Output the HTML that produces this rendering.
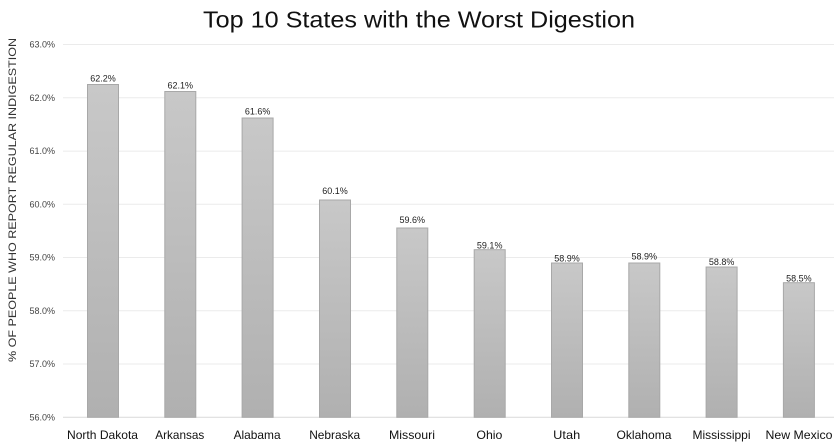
<!DOCTYPE html>
<html>
<head>
<meta charset="utf-8">
<style>
  html,body{margin:0;padding:0;background:#fff;}
  svg{display:block;}
  text{font-family:"Liberation Sans",sans-serif;}
</style>
</head>
<body>
<svg width="834" height="445" viewBox="0 0 834 445" xmlns="http://www.w3.org/2000/svg">
  <defs>
    <linearGradient id="g" x1="0" y1="0" x2="0" y2="1">
      <stop offset="0" stop-color="#c8c8c8"/>
      <stop offset="1" stop-color="#b0b0b0"/>
    </linearGradient>
  </defs>
  <rect width="834" height="445" fill="#fff"/>

  <!-- Title -->
  <text x="203" y="27.5" font-size="23" fill="#111" textLength="432" lengthAdjust="spacingAndGlyphs">Top 10 States with the Worst Digestion</text>

  <!-- Y axis title -->
  <text transform="translate(16,200) rotate(-90)" text-anchor="middle" font-size="11" fill="#333" textLength="324" lengthAdjust="spacingAndGlyphs">% OF PEOPLE WHO REPORT REGULAR INDIGESTION</text>

  <!-- Gridlines -->
  <g stroke="#ebebeb" stroke-width="1">
    <line x1="63" y1="44.5" x2="834" y2="44.5"/>
    <line x1="63" y1="97.8" x2="834" y2="97.8"/>
    <line x1="63" y1="151.1" x2="834" y2="151.1"/>
    <line x1="63" y1="204.3" x2="834" y2="204.3"/>
    <line x1="63" y1="257.5" x2="834" y2="257.5"/>
    <line x1="63" y1="310.8" x2="834" y2="310.8"/>
    <line x1="63" y1="364" x2="834" y2="364"/>
  </g>
  <line x1="63" y1="417.3" x2="834" y2="417.3" stroke="#d9d9d9" stroke-width="1"/>

  <!-- Y tick labels -->
  <g font-size="9" fill="#444" text-anchor="end">
    <text x="55" y="47.5">63.0%</text>
    <text x="55" y="100.8">62.0%</text>
    <text x="55" y="154.1">61.0%</text>
    <text x="55" y="207.3">60.0%</text>
    <text x="55" y="260.5">59.0%</text>
    <text x="55" y="313.8">58.0%</text>
    <text x="55" y="367">57.0%</text>
    <text x="55" y="420.3">56.0%</text>
  </g>

  <!-- Bars -->
  <g fill="url(#g)" stroke="#a8a8a8" stroke-width="1">
    <rect x="87.5" y="84.5" width="31" height="332.8"/>
    <rect x="164.8" y="91.5" width="31" height="325.8"/>
    <rect x="242.1" y="118" width="31" height="299.3"/>
    <rect x="319.5" y="200" width="31" height="217.3"/>
    <rect x="396.8" y="228" width="31" height="189.3"/>
    <rect x="474.2" y="249.7" width="31" height="167.6"/>
    <rect x="551.5" y="263" width="31" height="154.3"/>
    <rect x="628.8" y="263" width="31" height="154.3"/>
    <rect x="706.1" y="267" width="31" height="150.3"/>
    <rect x="783.4" y="282.7" width="31" height="134.6"/>
  </g>

  <!-- Value labels -->
  <g font-size="9" fill="#222" text-anchor="middle">
    <text x="103" y="81.5">62.2%</text>
    <text x="180.3" y="88.3">62.1%</text>
    <text x="257.6" y="114.3">61.6%</text>
    <text x="335" y="194">60.1%</text>
    <text x="412.3" y="223">59.6%</text>
    <text x="489.7" y="248.3">59.1%</text>
    <text x="567" y="261.7">58.9%</text>
    <text x="644.3" y="259.3">58.9%</text>
    <text x="721.6" y="265">58.8%</text>
    <text x="798.9" y="281.5">58.5%</text>
  </g>

  <!-- Category labels -->
  <g font-size="12" fill="#111" text-anchor="middle">
    <text x="102.5" y="439" textLength="71" lengthAdjust="spacingAndGlyphs">North Dakota</text>
    <text x="179.8" y="439" textLength="49" lengthAdjust="spacingAndGlyphs">Arkansas</text>
    <text x="257.1" y="439" textLength="47" lengthAdjust="spacingAndGlyphs">Alabama</text>
    <text x="334.7" y="439" textLength="51" lengthAdjust="spacingAndGlyphs">Nebraska</text>
    <text x="412" y="439" textLength="46" lengthAdjust="spacingAndGlyphs">Missouri</text>
    <text x="489.4" y="439" textLength="26" lengthAdjust="spacingAndGlyphs">Ohio</text>
    <text x="566.7" y="439" textLength="27" lengthAdjust="spacingAndGlyphs">Utah</text>
    <text x="644" y="439" textLength="55" lengthAdjust="spacingAndGlyphs">Oklahoma</text>
    <text x="721.5" y="439" textLength="58" lengthAdjust="spacingAndGlyphs">Mississippi</text>
    <text x="799" y="439" textLength="67" lengthAdjust="spacingAndGlyphs">New Mexico</text>
  </g>
</svg>
</body>
</html>
